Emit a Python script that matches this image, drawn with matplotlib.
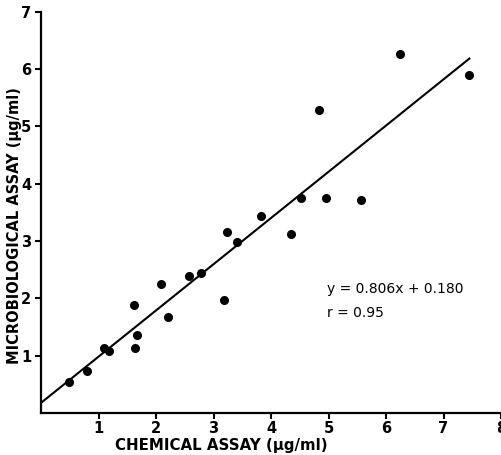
import matplotlib.pyplot as plt
import numpy as np

# chemical vs microbiological assay (ug/ml)
chem = [0.48, 0.80, 1.10, 1.18, 1.61, 1.66, 1.64, 2.09, 2.20, 2.57, 2.79, 3.19,
        3.24, 3.40, 3.83, 4.34, 4.52, 4.96, 5.57, 4.83, 6.25, 7.45]
micro = [0.55, 0.73, 1.13, 1.08, 1.88, 1.36, 1.13, 2.25, 1.67, 2.39, 2.44, 1.98,
         3.16, 2.98, 3.44, 3.12, 3.76, 3.75, 3.72, 5.28, 6.26, 5.89]

slope = 0.806
intercept = 0.180
r_value = 0.95
fit_x = [0.0, 7.45]

xticks = [1, 2, 3, 4, 5, 6, 7, 8]
yticks = [1, 2, 3, 4, 5, 6, 7]

fig = plt.figure(figsize=(5.01, 4.55), dpi=100)
ax = fig.add_axes([0.082, 0.092, 0.918, 0.882])

ax.plot(chem, micro, 'o', color='black', ms=5.5, clip_on=False)
fx = np.array(fit_x)
ax.plot(fx, slope * fx + intercept, color='black', lw=1.5)

ax.set_xlim(0, 8)
ax.set_ylim(0, 7)
ax.set_xticks(xticks)
ax.set_yticks(yticks)
ax.tick_params(direction='out', length=4, width=1.5, labelsize=10.5)
ax.tick_params(axis='x', pad=2)
ax.tick_params(axis='y', pad=3)
for lab in ax.get_xticklabels() + ax.get_yticklabels():
    lab.set_fontweight('bold')

for s in ['top', 'right']:
    ax.spines[s].set_visible(False)
for s in ['left', 'bottom']:
    ax.spines[s].set_linewidth(1.6)

ax.text(4.97, 2.09, f'y = {slope:.3f}x + {intercept:.3f}', fontsize=10,
        va='baseline')
ax.text(4.97, 1.68, f'r = {r_value:.2f}', fontsize=10, va='baseline')

fig.text(0.442, 0.011, 'CHEMICAL ASSAY (µg/ml)', ha='center', va='baseline',
         fontsize=10.8, fontweight='semibold')
fig.text(0.028, 0.505, 'MICROBIOLOGICAL ASSAY (µg/ml)', ha='center', va='center',
         rotation=90, fontsize=10.5, fontweight='semibold')

fig.savefig('out.png', dpi=100)
